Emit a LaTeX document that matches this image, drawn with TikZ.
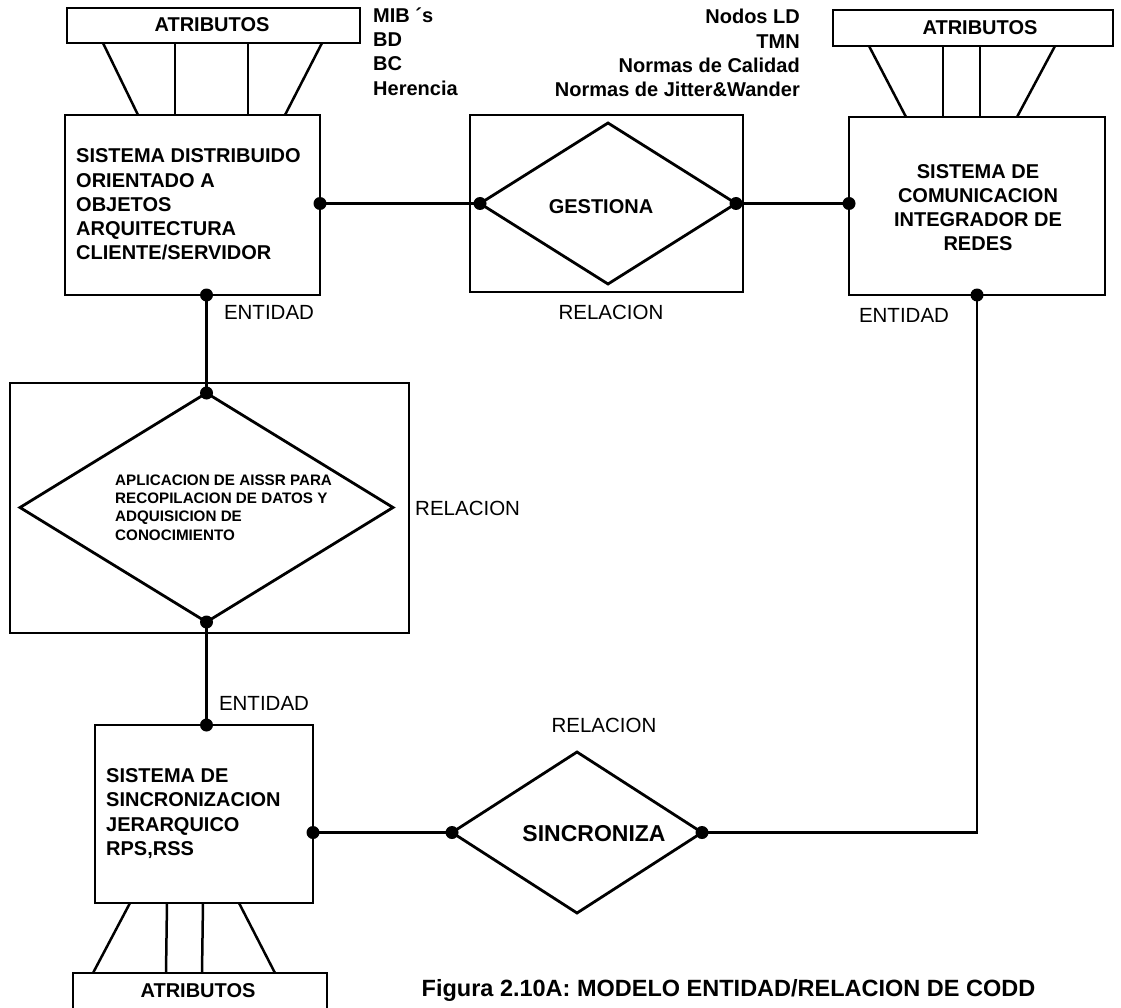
\documentclass[tikz,border=0pt]{standalone}
\usepackage{fontspec}
\setmainfont{Liberation Sans}
\usetikzlibrary{shapes.geometric,calc}

\begin{document}
\begin{tikzpicture}[x=1pt,y=-1pt,
  entbox/.style={draw, line width=2.6pt, inner sep=0pt, outer sep=0pt, anchor=north west},
  attrbox/.style={draw, line width=2.4pt, inner sep=0pt, outer sep=0pt, anchor=north west},
  relframe/.style={draw, line width=2.2pt, inner sep=0pt, outer sep=0pt, anchor=north west},
  reldia/.style={diamond, draw, line width=2.8pt, inner sep=0pt, outer sep=0pt},
  link/.style={line width=2.8pt},
  attrline/.style={line width=2.5pt},
  dot/.style={circle, fill=black, inner sep=0pt, minimum size=13pt},
  bold/.style={font=\fontsize{20}{24.2}\selectfont\bfseries, inner sep=0pt},
  smallbold/.style={font=\fontsize{15.2}{18.3}\selectfont\bfseries, inner sep=0pt},
  plain/.style={font=\fontsize{20.5}{24}\selectfont, inner sep=0pt}]

\useasboundingbox (0,0) rectangle (1121,1008);
\clip (0,0) rectangle (1121,1008);

% entities, attribute boxes and relation frames
\node[attrbox, minimum width=293pt, minimum height=35pt] (attrA) at (67,8) {};
\node[entbox, minimum width=255pt, minimum height=180pt] (boxA) at (65,115) {};
\node[relframe, minimum width=273pt, minimum height=177pt] (frameA) at (470,115) {};
\node[reldia, minimum width=256pt, minimum height=161pt] (diaA) at (608,203.5) {};

\node[attrbox, minimum width=280pt, minimum height=36pt] (attrB) at (833,10) {};
\node[entbox, minimum width=256pt, minimum height=178pt] (boxB) at (849,117) {};

\node[relframe, minimum width=399pt, minimum height=250pt] (frameB) at (10,383) {};
\node[reldia, minimum width=373pt, minimum height=229pt] (diaB) at (206.5,507.5) {};

\node[entbox, minimum width=218pt, minimum height=178pt] (boxC) at (95,725) {};
\node[attrbox, minimum width=254pt, minimum height=50pt] (attrC) at (73,973) {};
\node[reldia, minimum width=250pt, minimum height=161pt] (diaC) at (577,832.5) {};

% attribute links
\draw[attrline] ([xshift=36pt]attrA.south west) -- ([xshift=73pt]boxA.north west);
\draw[attrline] ([xshift=108pt]attrA.south west) -- ([xshift=110pt]boxA.north west);
\draw[attrline] ([xshift=181pt]attrA.south west) -- ([xshift=183pt]boxA.north west);
\draw[attrline] ([xshift=255pt]attrA.south west) -- ([xshift=220pt]boxA.north west);

\draw[attrline] ([xshift=36pt]attrB.south west) -- ([xshift=57pt]boxB.north west);
\draw[attrline] ([xshift=110pt]attrB.south west) -- ([xshift=94pt]boxB.north west);
\draw[attrline] ([xshift=147pt]attrB.south west) -- ([xshift=131pt]boxB.north west);
\draw[attrline] ([xshift=222pt]attrB.south west) -- ([xshift=168pt]boxB.north west);

\draw[attrline] ([xshift=35pt]boxC.south west) -- ([xshift=20pt]attrC.north west);
\draw[attrline] ([xshift=72pt]boxC.south west) -- ([xshift=93pt]attrC.north west);
\draw[attrline] ([xshift=108pt]boxC.south west) -- ([xshift=129pt]attrC.north west);
\draw[attrline] ([xshift=144pt]boxC.south west) -- ([xshift=202pt]attrC.north west);

% connection dots
\node[dot] (dA) at (boxA.east |- diaA.west) {};
\node[dot] (dAw) at (diaA.west) {};
\node[dot] (dAe) at (diaA.east) {};
\node[dot] (dBw) at (boxB.west |- diaA.east) {};
\node[dot] (dBs) at (boxB.south) {};
\node[dot] (dAs) at (diaB.north |- boxA.south) {};
\node[dot] (dBn) at (diaB.north) {};
\node[dot] (dBsouth) at (diaB.south) {};
\node[dot] (dCn) at (diaB.south |- boxC.north) {};
\node[dot] (dCe) at (boxC.east |- diaC.west) {};
\node[dot] (dCw) at (diaC.west) {};
\node[dot] (dCeast) at (diaC.east) {};

% relationship links
\draw[link] (dA.center) -- (dAw.center);
\draw[link] (dAe.center) -- (dBw.center);
\draw[link] (dAs.center) -- (dBn.center);
\draw[link] (dBsouth.center) -- (dCn.center);
\draw[link] (dCe.center) -- (dCw.center);
\draw[link] (dCeast.center) -| (dBs.center);

% texts
\node[bold] (tA) at (212,25) {ATRIBUTOS};
\node[bold] (tB) at (980,28) {ATRIBUTOS};
\node[bold] (tC) at (198,991) {ATRIBUTOS};

\node[bold, align=left, anchor=west] (nameA) at (76,204.5)
  {SISTEMA DISTRIBUIDO\\ORIENTADO A\\OBJETOS\\ARQUITECTURA\\CLIENTE/SERVIDOR};
\node[bold, align=center] (nameB) at (978,207.5)
  {SISTEMA DE\\COMUNICACION\\INTEGRADOR DE\\REDES};
\node[bold, align=left, anchor=west] (nameC) at (106,813.5)
  {SISTEMA DE\\SINCRONIZACION\\JERARQUICO\\RPS,RSS};
\node[smallbold, align=left, anchor=west] (nameD) at (115,507.5)
  {APLICACION DE AISSR PARA\\RECOPILACION DE DATOS Y\\ADQUISICION DE\\CONOCIMIENTO};

\node[bold] (verbA) at (601,207) {GESTIONA};
\node[bold, font=\fontsize{23}{26}\selectfont\bfseries] (verbC) at (594,834) {SINCRONIZA};

\node[bold, align=left, anchor=west] (listA) at (373,51.5)
  {MIB ´s\\BD\\BC\\Herencia};
\node[bold, align=right, anchor=east] (listB) at (800,53)
  {Nodos LD\\TMN\\Normas de Calidad\\Normas de Jitter\&Wander};

\node[plain] (relA) at (611,312) {RELACION};
\node[plain, anchor=west] (relB) at (415,508) {RELACION};
\node[plain] (relC) at (604,725) {RELACION};

\node[plain] (entA) at (269,312) {ENTIDAD};
\node[plain] (entB) at (904,315) {ENTIDAD};
\node[plain] (entC) at (264,703) {ENTIDAD};

\node[bold, font=\fontsize{23.5}{28}\selectfont\bfseries] (caption) at (728.5,990)
  {Figura 2.10A: MODELO ENTIDAD/RELACION DE CODD};
\end{tikzpicture}
\end{document}
